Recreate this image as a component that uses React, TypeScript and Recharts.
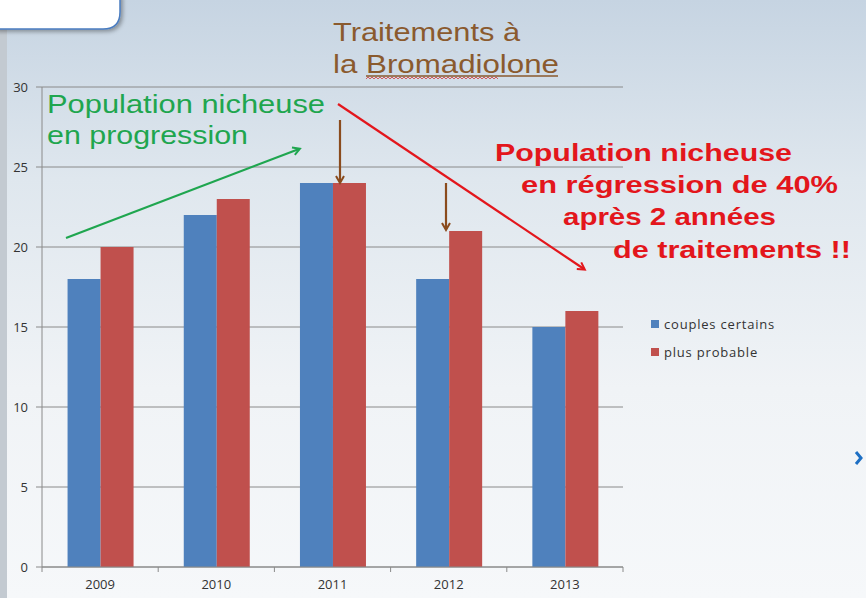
import { BarChart, Bar, XAxis, YAxis, CartesianGrid } from "recharts";

const years = ["2009", "2010", "2011", "2012", "2013"];
const couplesCertains = [18, 22, 24, 18, 15];
const plusProbable = [20, 23, 24, 21, 16];
const yTicks = [0, 5, 10, 15, 20, 25, 30];
const seriesNames = ["couples certains", "plus probable"];

const data = years.map((year, i) => ({
  year,
  certains: couplesCertains[i],
  probable: plusProbable[i],
}));

const BLUE = "#4f81bd";
const RED = "#c0504d";
const AXIS = "#8a8a8a";
const TICK_FONT = "'Open Sans', sans-serif";

// x tick: label under the band centre, small marks on the band edges
const YearTick = (props: any) => {
  const { x, y, payload, index } = props;
  const half = payload?.offset || 58;
  const last = index === years.length - 1;
  return (
    <g>
      <line x1={x - half} y1={y - 8} x2={x - half} y2={y - 3} stroke={AXIS} />
      {last && <line x1={x + half} y1={y - 8} x2={x + half} y2={y - 3} stroke={AXIS} />}
      <text x={x} y={y + 14} textAnchor="middle" fill="#333" fontSize={13} fontFamily={TICK_FONT}>
        {payload.value}
      </text>
    </g>
  );
};

const LegendBox = () => (
  <div
    style={{
      position: "absolute",
      left: 651,
      top: 310,
      fontFamily: TICK_FONT,
      fontSize: 13,
      letterSpacing: 0.8,
      color: "#333",
    }}
  >
    {[BLUE, RED].map((c, i) => (
      <div key={c} style={{ display: "flex", alignItems: "center", height: 28 }}>
        <span style={{ width: 8, height: 8, background: c, marginRight: 5, display: "inline-block" }} />
        {seriesNames[i]}
      </div>
    ))}
  </div>
);

const Overlay = () => (
  <svg width={866} height={598} style={{ position: "absolute", left: 0, top: 0, pointerEvents: "none" }}>
    <defs>
      <marker id="ag" markerWidth="10" markerHeight="10" refX="7" refY="5" orient="auto" markerUnits="userSpaceOnUse">
        <path d="M1,1 L8,5 L1,9" fill="none" stroke="#1fa64f" strokeWidth="2" />
      </marker>
      <marker id="ar" markerWidth="10" markerHeight="10" refX="7" refY="5" orient="auto" markerUnits="userSpaceOnUse">
        <path d="M1,1 L8,5 L1,9" fill="none" stroke="#e3161c" strokeWidth="2" />
      </marker>
      <marker id="ab" markerWidth="10" markerHeight="10" refX="7" refY="5" orient="auto" markerUnits="userSpaceOnUse">
        <path d="M1,1 L8,5 L1,9" fill="none" stroke="#8a4b1d" strokeWidth="2" />
      </marker>
      <filter id="sh" x="-10%" y="-10%" width="130%" height="160%">
        <feDropShadow dx="2" dy="2" stdDeviation="2" floodOpacity="0.35" />
      </filter>
    </defs>
    <path
      d="M-5,-5 L120,-5 L120,12 Q120,29 103,29 L-5,29 Z"
      fill="#fff"
      stroke="#4a7cc0"
      strokeWidth="1.5"
      filter="url(#sh)"
    />
    <g fontFamily="'Liberation Sans', Arial, sans-serif" fontSize="25" fill="#8a5a2e">
      <text x={333} y={41} textLength={187} lengthAdjust="spacingAndGlyphs">Traitements à</text>
      <text x={333} y={73} textLength={226} lengthAdjust="spacingAndGlyphs">la Bromadiolone</text>
    </g>
    <line x1={366} y1={76} x2={558} y2={76} stroke="#8a5a2e" strokeWidth="1.3" />
    <path
      d="M366,79 l2,-2 2,2 2,-2 2,2 2,-2 2,2 2,-2 2,2 2,-2 2,2 2,-2 2,2 2,-2 2,2 2,-2 2,2 2,-2 2,2 2,-2 2,2 2,-2 2,2 2,-2 2,2 2,-2 2,2 2,-2 2,2 2,-2 2,2 2,-2 2,2 2,-2 2,2 2,-2 2,2 2,-2 2,2 2,-2 2,2 2,-2 2,2 2,-2 2,2 2,-2 2,2 2,-2 2,2 2,-2 2,2 2,-2 2,2 2,-2 2,2 2,-2 2,2 2,-2 2,2 2,-2 2,2 2,-2 2,2 2,-2 2,2 2,-2 2,2"
      fill="none"
      stroke="#d23a3a"
      strokeWidth="0.8"
    />
    <g fontFamily="'Liberation Sans', Arial, sans-serif" fontSize="26" fill="#1fa64f">
      <text x={47} y={113} textLength={278} lengthAdjust="spacingAndGlyphs">Population nicheuse</text>
      <text x={47} y={144} textLength={201} lengthAdjust="spacingAndGlyphs">en progression</text>
    </g>
    <line x1={66} y1={238} x2={299} y2={149} stroke="#1fa64f" strokeWidth="2.2" markerEnd="url(#ag)" />
    <line x1={338} y1={104} x2={584} y2={269} stroke="#e3161c" strokeWidth="2.2" markerEnd="url(#ar)" />
    <line x1={340} y1={120} x2={340} y2={182} stroke="#8a4b1d" strokeWidth="2.2" markerEnd="url(#ab)" />
    <line x1={446} y1={183} x2={446} y2={229} stroke="#8a4b1d" strokeWidth="2.2" markerEnd="url(#ab)" />
    <g fontFamily="'Liberation Sans', Arial, sans-serif" fontSize="24" fontWeight="bold" fill="#e3161c">
      <text x={495} y={161} textLength={297} lengthAdjust="spacingAndGlyphs">Population nicheuse</text>
      <text x={521} y={193} textLength={317} lengthAdjust="spacingAndGlyphs">en régression de 40%</text>
      <text x={563} y={225} textLength={213} lengthAdjust="spacingAndGlyphs">après 2 années</text>
      <text x={613} y={258} textLength={238} lengthAdjust="spacingAndGlyphs">de traitements !!</text>
    </g>
    <path d="M856,452 l5,6 -5,6" fill="none" stroke="#1d6fc4" strokeWidth="3" />
  </svg>
);

export default function App() {
  return (
    <div
      style={{
        position: "fixed",
        left: 0,
        top: 0,
        width: 866,
        height: 598,
        overflow: "hidden",
        background: "linear-gradient(180deg, #c6d4e2 0%, #dfe7ee 30%, #f0f3f6 65%, #f6f8fa 100%)",
      }}
    >
      <div style={{ position: "absolute", left: 0, top: 0, width: 7, height: 598, background: "#c3cad1" }} />
      <div style={{ position: "absolute", left: 7, top: 0, width: 859, height: 598 }}>
        <BarChart
          width={859}
          height={598}
          data={data}
          margin={{ top: 87, right: 243, left: 0, bottom: 0 }}
          barCategoryGap="22%"
          barGap={0}
        >
          <CartesianGrid vertical={false} stroke={AXIS} strokeWidth={1} />
          <XAxis
            dataKey="year"
            height={31}
            axisLine={{ stroke: AXIS }}
            tickLine={false}
            tick={<YearTick />}
          />
          <YAxis
            width={35}
            domain={[0, 30]}
            ticks={yTicks}
            axisLine={{ stroke: AXIS }}
            tickLine={{ stroke: AXIS }}
            tickSize={6}
            tickMargin={8}
            tick={{ fill: "#333", fontSize: 13, fontFamily: TICK_FONT }}
          />
          <Bar dataKey="certains" name={seriesNames[0]} fill={BLUE} isAnimationActive={false} />
          <Bar dataKey="probable" name={seriesNames[1]} fill={RED} isAnimationActive={false} />
        </BarChart>
      </div>
      <LegendBox />
      <Overlay />
    </div>
  );
}
